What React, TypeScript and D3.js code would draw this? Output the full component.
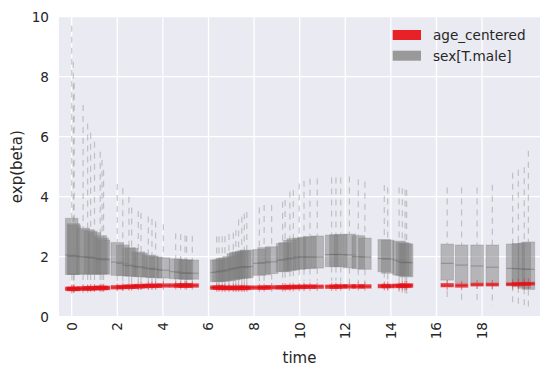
import React from 'react';
import * as d3 from 'd3';

const times = [
  0, 0.07, 0.11, 0.5, 0.7, 0.83, 1.0, 1.25, 1.33, 1.4,
  2.0, 2.24, 2.51, 2.63, 2.92, 3.04, 3.36, 3.52, 3.68, 4.02, 4.56, 4.78, 4.97, 5.04, 5.29,
  6.36, 6.46, 6.6, 6.72, 6.9, 7.09, 7.2, 7.32, 7.46, 7.57, 7.68, 8.23, 8.44, 8.77, 9.25, 9.36, 9.57, 9.72, 9.98, 10.19, 10.45, 10.77, 11.4, 11.59, 11.8, 12.18, 12.57, 12.86,
  13.71, 13.86, 14.36, 14.5, 14.62, 14.69,
  16.47, 17.1, 17.78, 18.45, 19.34, 19.59, 19.85, 20.03,
];

const sexHi = [
  9.7, 8.5, 7.8, 7.06, 6.44, 6.13, 5.83, 5.5, 5.22, 4.9,
  4.42, 4.28, 4.0, 3.64, 3.52, 3.46, 3.34, 3.26, 3.17, 3.08, 2.78, 2.76, 2.71, 2.7, 2.7,
  2.67, 2.67, 2.68, 2.68, 2.76, 2.8, 2.89, 3.24, 3.33, 3.44, 3.49, 3.64, 3.72, 3.72, 3.83, 3.89, 4.17, 4.22, 4.44, 4.53, 4.6, 4.61, 4.64, 4.64, 4.64, 4.67, 4.58, 4.5,
  4.39, 4.31, 4.31, 4.28, 4.24, 4.22,
  4.31, 4.31, 4.31, 4.4, 4.8, 4.9, 4.98, 5.53,
];
const sexQ3 = [
  3.28, 3.1, 3.05, 2.95, 2.9, 2.85, 2.8, 2.7, 2.62, 2.55,
  2.47, 2.39, 2.3, 2.28, 2.16, 2.12, 2.05, 2.02, 1.99, 1.96, 1.93, 1.91, 1.89, 1.89, 1.89,
  1.89, 1.9, 1.94, 1.96, 2.0, 2.1, 2.14, 2.16, 2.18, 2.2, 2.22, 2.24, 2.3, 2.33, 2.44, 2.47, 2.55, 2.6, 2.62, 2.65, 2.67, 2.69, 2.72, 2.73, 2.74, 2.75, 2.7, 2.62,
  2.57, 2.55, 2.52, 2.47, 2.44, 2.42,
  2.42, 2.39, 2.39, 2.39, 2.42, 2.44, 2.46, 2.49,
];
const sexMed = [
  2.06, 2.03, 2.02, 2.0, 1.99, 1.98, 1.96, 1.94, 1.93, 1.9,
  1.82, 1.78, 1.72, 1.7, 1.67, 1.65, 1.62, 1.6, 1.58, 1.55, 1.5, 1.48, 1.46, 1.45, 1.45,
  1.47, 1.49, 1.51, 1.53, 1.55, 1.58, 1.6, 1.62, 1.64, 1.65, 1.67, 1.78, 1.8, 1.83, 1.88, 1.9, 1.93, 1.95, 1.99, 1.99, 1.99, 1.99, 2.07, 2.08, 2.07, 2.06, 2.0, 1.99,
  1.94, 1.92, 1.89, 1.85, 1.81, 1.8,
  1.78, 1.72, 1.69, 1.65, 1.61, 1.6, 1.59, 1.58,
];
const sexQ1 = [
  1.41, 1.41, 1.41, 1.42, 1.42, 1.42, 1.42, 1.42, 1.42, 1.42,
  1.38, 1.37, 1.36, 1.35, 1.34, 1.33, 1.32, 1.31, 1.3, 1.29, 1.27, 1.26, 1.25, 1.25, 1.25,
  1.17, 1.17, 1.18, 1.19, 1.2, 1.23, 1.25, 1.27, 1.28, 1.29, 1.3, 1.38, 1.4, 1.44, 1.5, 1.51, 1.54, 1.56, 1.58, 1.6, 1.61, 1.62, 1.67, 1.67, 1.67, 1.63, 1.6, 1.58,
  1.5, 1.45, 1.39, 1.37, 1.36, 1.33,
  1.22, 1.13, 1.13, 1.11, 1.05, 1.0, 0.95, 0.91,
];
const sexLo = [
  0.72, 0.74, 0.76, 0.8, 0.8, 0.82, 0.82, 0.84, 0.84, 0.85,
  0.88, 0.88, 0.89, 0.89, 0.9, 0.9, 0.9, 0.9, 0.91, 0.91, 0.92, 0.92, 0.92, 0.92, 0.92,
  0.88, 0.88, 0.89, 0.89, 0.9, 0.91, 0.92, 0.93, 0.94, 0.95, 0.96, 1.1, 1.12, 1.15, 1.18, 1.19, 1.2, 1.2, 1.2, 1.2, 1.2, 1.2, 1.2, 1.2, 1.18, 1.15, 1.12, 1.1,
  0.89, 0.8, 0.83, 0.75, 0.7, 0.67,
  0.5, 0.45, 0.39, 0.36, 0.33, 0.3, 0.26, 0.23,
];

const ageHi = [
  1.08, 1.07, 1.07, 1.08, 1.08, 1.09, 1.09, 1.1, 1.1, 1.1,
  1.12, 1.13, 1.14, 1.14, 1.15, 1.16, 1.17, 1.17, 1.17, 1.18, 1.18, 1.18, 1.18, 1.18, 1.18,
  1.11, 1.11, 1.1, 1.1, 1.1, 1.1, 1.1, 1.1, 1.1, 1.1, 1.11, 1.11, 1.11, 1.12, 1.12, 1.12, 1.13, 1.13, 1.13, 1.14, 1.14, 1.14, 1.14, 1.14, 1.15, 1.15, 1.15, 1.15,
  1.17, 1.17, 1.18, 1.18, 1.18, 1.19,
  1.22, 1.2, 1.22, 1.22, 1.25, 1.27, 1.27, 1.28,
];
const ageQ3 = [
  0.99, 0.99, 0.99, 1.0, 1.0, 1.01, 1.01, 1.02, 1.02, 1.02,
  1.04, 1.05, 1.06, 1.06, 1.07, 1.08, 1.09, 1.09, 1.09, 1.1, 1.1, 1.1, 1.1, 1.1, 1.1,
  1.03, 1.03, 1.02, 1.02, 1.02, 1.02, 1.02, 1.02, 1.02, 1.02, 1.03, 1.03, 1.03, 1.04, 1.04, 1.04, 1.05, 1.05, 1.05, 1.06, 1.06, 1.06, 1.06, 1.06, 1.07, 1.07, 1.07, 1.07,
  1.08, 1.08, 1.09, 1.09, 1.09, 1.1,
  1.11, 1.1, 1.12, 1.12, 1.13, 1.14, 1.14, 1.15,
];
const ageMed = [
  0.93, 0.93, 0.93, 0.94, 0.94, 0.95, 0.95, 0.96, 0.96, 0.96,
  0.98, 0.99, 1.0, 1.0, 1.01, 1.02, 1.03, 1.03, 1.03, 1.04, 1.04, 1.04, 1.04, 1.04, 1.04,
  0.97, 0.97, 0.96, 0.96, 0.96, 0.96, 0.96, 0.96, 0.96, 0.96, 0.97, 0.97, 0.97, 0.98, 0.98, 0.98, 0.99, 0.99, 0.99, 1.0, 1.0, 1.0, 1.0, 1.0, 1.01, 1.01, 1.01, 1.01,
  1.02, 1.02, 1.03, 1.03, 1.03, 1.04,
  1.05, 1.04, 1.07, 1.07, 1.08, 1.09, 1.09, 1.1,
];
const ageQ1 = [
  0.87, 0.87, 0.87, 0.88, 0.88, 0.89, 0.89, 0.9, 0.9, 0.9,
  0.92, 0.93, 0.94, 0.94, 0.95, 0.96, 0.97, 0.97, 0.97, 0.98, 0.98, 0.98, 0.98, 0.98, 0.98,
  0.91, 0.91, 0.9, 0.9, 0.9, 0.9, 0.9, 0.9, 0.9, 0.9, 0.91, 0.91, 0.91, 0.92, 0.92, 0.92, 0.93, 0.93, 0.93, 0.94, 0.94, 0.94, 0.94, 0.94, 0.95, 0.95, 0.95, 0.95,
  0.96, 0.96, 0.97, 0.97, 0.97, 0.98,
  0.99, 0.98, 1.02, 1.02, 1.03, 1.04, 1.04, 1.05,
];
const ageLo = [
  0.77, 0.8, 0.8, 0.8, 0.81, 0.82, 0.82, 0.83, 0.83, 0.83,
  0.85, 0.86, 0.87, 0.87, 0.88, 0.89, 0.9, 0.9, 0.9, 0.91, 0.91, 0.91, 0.91, 0.91, 0.91,
  0.83, 0.83, 0.82, 0.82, 0.82, 0.82, 0.82, 0.82, 0.82, 0.82, 0.83, 0.83, 0.83, 0.84, 0.84, 0.84, 0.85, 0.85, 0.85, 0.86, 0.86, 0.86, 0.86, 0.86, 0.87, 0.87, 0.87, 0.87,
  0.87, 0.87, 0.88, 0.88, 0.88, 0.89,
  0.88, 0.88, 0.92, 0.92, 0.91, 0.92, 0.92, 0.92,
];

const seriesNames = ['age_centered', 'sex[T.male]'];
const xTicks = [0, 2, 4, 6, 8, 10, 12, 14, 16, 18];
const yTicks = [0, 2, 4, 6, 8, 10];

const W = 549;
const H = 376;
const PL = 59, PR = 540, PT = 16.7, PB = 316.7;
const FONT = 'DejaVu Sans, sans-serif';
const TXT = '#262626';
const BOXW = 0.55;

const x = d3.scaleLinear().domain([-0.557, 20.54]).range([PL, PR]);
const y = d3.scaleLinear().domain([0, 10]).range([PB, PT]);

type S = { lo: number[]; q1: number[]; med: number[]; q3: number[]; hi: number[] };

function BoxSeries({ s, fill, fillOpacity, stroke, strokeOpacity, medStroke, whisk, whiskOpacity }: {
  s: S; fill: string; fillOpacity: number; stroke: string; strokeOpacity: number; medStroke: string; whisk: string; whiskOpacity: number;
}) {
  const hw = (x(BOXW) - x(0)) / 2;
  return (
    <g>
      {times.map((t, i) => {
        const cx = x(t);
        return (
          <g key={i}>
            <line x1={cx} x2={cx} y1={y(s.hi[i])} y2={y(s.q3[i])} stroke={whisk} strokeOpacity={whiskOpacity} strokeWidth={1.2} strokeDasharray="6,5" />
            <line x1={cx} x2={cx} y1={y(s.q1[i])} y2={y(s.lo[i])} stroke={whisk} strokeOpacity={whiskOpacity} strokeWidth={1.2} strokeDasharray="6,5" />
            <rect x={cx - hw} y={y(s.q3[i])} width={2 * hw} height={y(s.q1[i]) - y(s.q3[i])} fill={fill} fillOpacity={fillOpacity} stroke={stroke} strokeOpacity={strokeOpacity} strokeWidth={1} />
            <line x1={cx - hw} x2={cx + hw} y1={y(s.med[i])} y2={y(s.med[i])} stroke={medStroke} strokeOpacity={0.45} strokeWidth={1} />
          </g>
        );
      })}
    </g>
  );
}

export default function App() {
  const sex: S = { lo: sexLo, q1: sexQ1, med: sexMed, q3: sexQ3, hi: sexHi };
  const age: S = { lo: ageLo, q1: ageQ1, med: ageMed, q3: ageQ3, hi: ageHi };
  return (
    <svg width={W} height={H} style={{ position: 'absolute', left: 0, top: 0 }} fontFamily={FONT}>
      <rect x={0} y={0} width={W} height={H} fill="#ffffff" />
      <defs>
        <clipPath id="plotclip">
          <rect x={PL} y={PT} width={PR - PL} height={PB - PT} />
        </clipPath>
      </defs>
      <rect x={PL} y={PT} width={PR - PL} height={PB - PT} fill="#EAEAF2" />
      {xTicks.map((t) => (
        <line key={'gx' + t} x1={x(t)} x2={x(t)} y1={PT} y2={PB} stroke="#ffffff" strokeWidth={1.3} />
      ))}
      {yTicks.map((v) => (
        <line key={'gy' + v} x1={PL} x2={PR} y1={y(v)} y2={y(v)} stroke="#ffffff" strokeWidth={1.3} />
      ))}
      <g clipPath="url(#plotclip)">
        <BoxSeries s={sex} fill="#808080" fillOpacity={0.5} stroke="#808080" strokeOpacity={0.35} medStroke="#5a5a5a" whisk="#8c8c8c" whiskOpacity={0.45} />
        <BoxSeries s={age} fill="#e8161e" fillOpacity={0.8} stroke="#e8161e" strokeOpacity={0.4} medStroke="#c01010" whisk="#e8161e" whiskOpacity={0.4} />
      </g>
      {yTicks.map((v) => (
        <text key={'ty' + v} x={49} y={y(v)} dy="0.36em" textAnchor="end" fontSize={13.6} fill={TXT}>{v}</text>
      ))}
      {xTicks.map((t) => (
        <text key={'tx' + t} transform={`translate(${x(t)},${322}) rotate(-90)`} textAnchor="end" dy="0.36em" fontSize={13.6} fill={TXT}>{t}</text>
      ))}
      <text x={(PL + PR) / 2} y={363} textAnchor="middle" fontSize={15} fill={TXT}>time</text>
      <text transform={`translate(22,${(PT + PB) / 2}) rotate(-90)`} textAnchor="middle" fontSize={15} fill={TXT}>exp(beta)</text>
      <g>
        <rect x={392.7} y={30} width={28.3} height={10} fill="#e8161e" fillOpacity={0.95} />
        <text x={433} y={35} dy="0.36em" fontSize={13.6} fill={TXT}>{seriesNames[0]}</text>
        <rect x={392.7} y={50.7} width={28.3} height={10} fill="#999999" />
        <text x={433} y={55.7} dy="0.36em" fontSize={13.6} fill={TXT}>{seriesNames[1]}</text>
      </g>
    </svg>
  );
}
